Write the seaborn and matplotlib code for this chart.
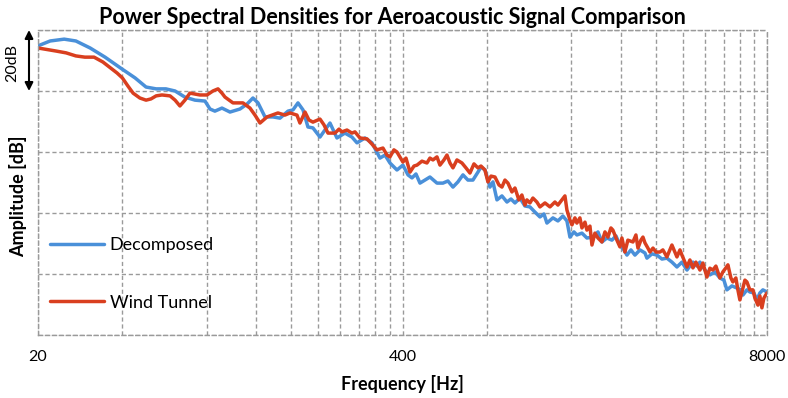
import numpy as np
import pandas as pd
import matplotlib
matplotlib.use('Agg')
import matplotlib.pyplot as plt
import seaborn as sns

# frequency [Hz] and amplitude [dB]
freq_decomposed = [20, 22.1, 24.8, 27.3, 30.7, 34.7, 39.9, 44.4, 48.6, 52.8, 57.2, 61.7, 66.9, 72.7, 78.9,
                   82.2, 85.6, 90.7, 96.9, 105.2, 111.4, 117.0, 122.0, 129.2, 138.0, 146.1, 156.1, 162.6,
                   169.4, 176.6, 183.9, 191.6, 203, 211.4, 220.4, 233.4, 249.2, 264, 275.2, 293.8, 311.2,
                   332.4, 346.4, 360.8, 382.2, 401.4, 418.4, 432.4, 446.8, 461.8, 481.2, 501.2, 531, 557.8,
                   581, 605.6, 630.8, 657.4, 684.8, 713.6, 743.6, 762.2, 787.8, 820.8, 841.2, 869.4, 905.8,
                   943.8, 975.4, 1008, 1050, 1094, 1140, 1188, 1238, 1279, 1311, 1377, 1435, 1495, 1545,
                   1584, 1637, 1677, 1748, 1821, 1913, 1994, 2060, 2146, 2236, 2312, 2388, 2468, 2530, 2614,
                   2702, 2816, 2934, 2982, 3108, 3238, 3374, 3514, 3662, 3816, 3976, 4144, 4352, 4498, 4610,
                   4804, 5004, 5216, 5432, 5614, 5754, 5996, 6248, 6456, 6564, 6782, 6950, 7182, 7362, 7546,
                   7734, 8000]
amp_decomposed = [94.8, 96.4, 97.0, 96.4, 94.1, 91.1, 87.2, 84.3, 81.3, 80.7, 80.7, 80.0, 78.0, 77.0, 76.7,
                  74.1, 73.4, 74.4, 73.1, 74.1, 75.7, 77.7, 76.1, 71.5, 71.5, 71.1, 73.4, 73.8,
                  76.1, 73.8, 68.2, 67.9, 64.9, 67.2, 69.5, 64.6, 66.2, 64.9, 63.0, 64.6, 63.0,
                  58.0, 59.0, 56.4, 54.1, 55.7, 52.5, 51.5, 52.8, 49.8, 50.8, 51.8, 49.8, 49.8,
                  50.5, 48.5, 50.2, 52.5, 50.8, 50.8, 53.4, 55.1, 54.1, 48.5, 50.2, 44.3, 45.6,
                  43.6, 44.6, 43.3, 44.9, 42.3, 42.0, 40.3, 38.7, 39.7, 36.7, 38.4, 37.4, 39.0, 37.4,
                  32.1, 33.8, 32.8, 33.4, 31.8, 32.1, 33.8, 30.5, 31.8, 31.1, 32.5, 29.5, 27.9, 26.2, 27.9,
                  26.2, 27.9, 26.9, 25.2, 26.6, 26.2, 24.9, 25.2, 23.9, 22.3, 23.9, 21.3, 23.9, 22.6, 23.9,
                  21.3, 19.7, 20.7, 18.7, 18.0, 14.8, 16.1, 15.4, 14.8, 13.1, 14.8, 14.1, 13.8, 11.5, 13.8,
                  14.8, 14.1]

freq_wind_tunnel = [20, 23.2, 25.2, 27.3, 29.4, 31.7, 34.1, 36.4, 38.3, 40, 41.9, 43.7, 46.2, 48.6, 50.6,
                    52.8, 55.4, 59.2, 61.7, 64.2, 66.9, 69.7, 75.7, 80.2, 84.2, 87.8, 90.7, 93.0, 99.3,
                    107.8, 114.2, 119.0, 124.0, 131.4, 136.8, 143.7, 152.2, 158.6, 168, 172.2, 179.5,
                    185.4, 191.6, 203, 209.8, 216.8, 229.6, 237.4, 243.2, 253.4, 264, 270.6, 282, 298.8,
                    311.2, 324.4, 340.6, 352, 360.8, 372.8, 382.2, 401.4, 411.6, 425.4, 439.6, 450.6,
                    469.4, 489, 501.2, 513.8, 531, 544.2, 562.4, 576.4, 590.8, 605.6, 625.8, 652, 673.8,
                    696.4, 719.6, 743.6, 762.2, 787.8, 807.2, 827.6, 855.2, 883.8, 905.8, 928.4, 951.6,
                    983.2, 1008, 1041, 1067, 1094, 1112, 1140, 1168, 1207, 1238, 1290, 1344, 1400, 1435,
                    1483, 1520, 1545, 1584, 1610, 1650, 1677, 1719, 1748, 1792, 1821, 1867, 1898, 1945,
                    1994, 2060, 2112, 2164, 2218, 2254, 2330, 2388, 2428, 2488, 2550, 2658, 2724, 2770,
                    2838, 2886, 2934, 3006, 3058, 3134, 3212, 3318, 3400, 3514, 3602, 3662, 3754, 3816,
                    3912, 3976, 4076, 4144, 4246, 4352, 4460, 4610, 4724, 4882, 5004, 5128, 5256, 5432,
                    5568, 5706, 5802, 5946, 6044, 6194, 6298, 6402, 6564, 6672, 6782, 6950, 7124, 7244,
                    7424, 7546, 7672, 7798, 8000]
amp_wind_tunnel = [94.1, 93.1, 92.5, 91.5, 91.1, 91.1, 89.5, 87.5, 85.9, 84.3, 81.6, 79.3, 77.7, 77.0, 77.4,
                   78.4, 78.7, 78.4, 77.0, 75.1, 77.0, 79.3, 78.7, 78.7, 80.0, 80.7, 79.3, 78.0, 76.1,
                   76.1, 74.4, 72.1, 69.5, 71.5, 72.1, 72.8, 72.1, 72.8, 72.1, 69.5, 73.1,
                   70.5, 69.8, 70.8, 68.9, 66.2, 66.2, 67.5, 66.6, 67.2, 66.2, 66.6, 64.6, 64.3,
                   62.6, 60.7, 61.3, 59.0, 58.4, 60.7, 60.0, 56.7, 58.0, 53.4, 55.4, 55.7,
                   57.0, 56.4, 58.0, 57.4, 58.4, 55.7, 57.4, 59.0, 56.4, 54.8, 57.4, 56.4, 54.8,
                   53.1, 56.1, 54.8, 55.4, 54.1, 50.2, 52.1, 51.8, 49.2, 48.5, 50.8, 49.8,
                   46.9, 48.2, 44.3, 45.9, 42.6, 44.3, 43.3, 44.9, 43.6, 42.0, 43.3, 42.0, 43.6, 42.6,
                   44.3, 45.6, 41.0, 37.7, 36.1, 38.4, 36.7, 38.4, 35.1, 37.0, 34.4, 35.7, 29.5, 33.4,
                   31.8, 30.5, 33.8, 32.1, 35.1, 34.4, 31.1, 28.9, 31.8, 27.2, 31.1, 30.5, 32.8, 28.5,
                   31.1, 32.1, 30.2, 28.5, 27.2, 28.5, 27.2, 27.2, 27.9, 25.6, 27.9, 29.5, 27.2, 25.6,
                   27.9, 26.2, 23.9, 22.3, 24.6, 22.0, 23.9, 21.3, 23.6, 19.0, 21.9, 21.3, 22.6, 18.7,
                   20.7, 22.0, 23.0, 18.7, 17.4, 18.7, 14.8, 11.5, 15.4, 18.0, 17.4, 14.8, 14.8, 12.1,
                   9.8, 12.8, 8.9, 12.1, 13.8]

series_names = ['Decomposed', 'Wind Tunnel']
colors = ['#4a90d9', '#d93f1f']
x_ticks = [20, 400, 8000]
grid_multiples = [2, 4, 6, 8, 10, 12, 14, 16, 18]

df = pd.concat([
    pd.DataFrame({'Frequency': freq_decomposed, 'Amplitude': amp_decomposed, 'Signal': series_names[0]}),
    pd.DataFrame({'Frequency': freq_wind_tunnel, 'Amplitude': amp_wind_tunnel, 'Signal': series_names[1]}),
])

sns.set_theme(style='white')
plt.rcParams['font.family'] = ['Lato', 'DejaVu Sans']
plt.rcParams['text.color'] = 'black'
plt.rcParams['xtick.color'] = 'black'

fig = plt.figure(figsize=(7.88, 3.98), dpi=100)
ax = fig.add_axes([38 / 788, 1 - 335 / 398, 729 / 788, 305 / 398])

sns.lineplot(data=df, x='Frequency', y='Amplitude', hue='Signal', palette=colors,
             estimator=None, sort=True, linewidth=2.5, ax=ax)

ax.set_xscale('log')
ax.set_xlim(20, 8000)
ax.set_ylim(0, 100)
ax.set_xticks(x_ticks)
ax.set_xticklabels([str(t) for t in x_ticks])
minor = [20 * m for m in grid_multiples] + [400 * m for m in grid_multiples]
ax.set_xticks(minor, minor=True)
ax.xaxis.set_minor_formatter(matplotlib.ticker.NullFormatter())
ax.set_yticks([0, 20, 40, 60, 80, 100])
ax.set_yticklabels([])
ax.tick_params(axis='both', which='both', length=0)
ax.tick_params(axis='x', labelsize=11.5, pad=11, labelcolor='black')
ax.grid(True, which='both', color='#9a9a9a', linestyle=(0, (3, 2)), linewidth=1)
for s in ax.spines.values():
    s.set_color('#9a9a9a')
    s.set_linestyle((0, (3, 2)))
    s.set_linewidth(1)

ax.set_xlabel('')
ax.set_ylabel('')
fig.text(402 / 788, 1 - 384 / 398, 'Frequency [Hz]', ha='center', va='center',
         fontsize=13, fontweight='bold')
fig.text(18 / 788, 1 - 196 / 398, 'Amplitude [dB]', ha='center', va='center',
         rotation=90, fontsize=13, fontweight='bold')
fig.text(392 / 788, 1 - 17 / 398, 'Power Spectral Densities for Aeroacoustic Signal Comparison',
         ha='center', va='center', fontsize=15.5, fontweight='bold')

# 20 dB scale arrow
ax.annotate('', xy=(-9 / 729, 100), xytext=(-9 / 729, 80),
            xycoords=('axes fraction', 'data'), textcoords=('axes fraction', 'data'),
            arrowprops=dict(arrowstyle='<|-|>', color='black', lw=1.5, mutation_scale=12,
                            shrinkA=0, shrinkB=0), annotation_clip=False)
fig.text(12 / 788, 1 - 63 / 398, '20dB', ha='center', va='center', rotation=90, fontsize=11.5)

leg = ax.legend(loc='center left', bbox_to_anchor=(12 / 729, 0.2), frameon=False,
                fontsize=13, handlelength=3.0, handletextpad=0.3, labelspacing=2.3,
                borderpad=0, borderaxespad=0)
for line in leg.get_lines():
    line.set_linewidth(2.5)

fig.savefig('out.png', dpi=100)
